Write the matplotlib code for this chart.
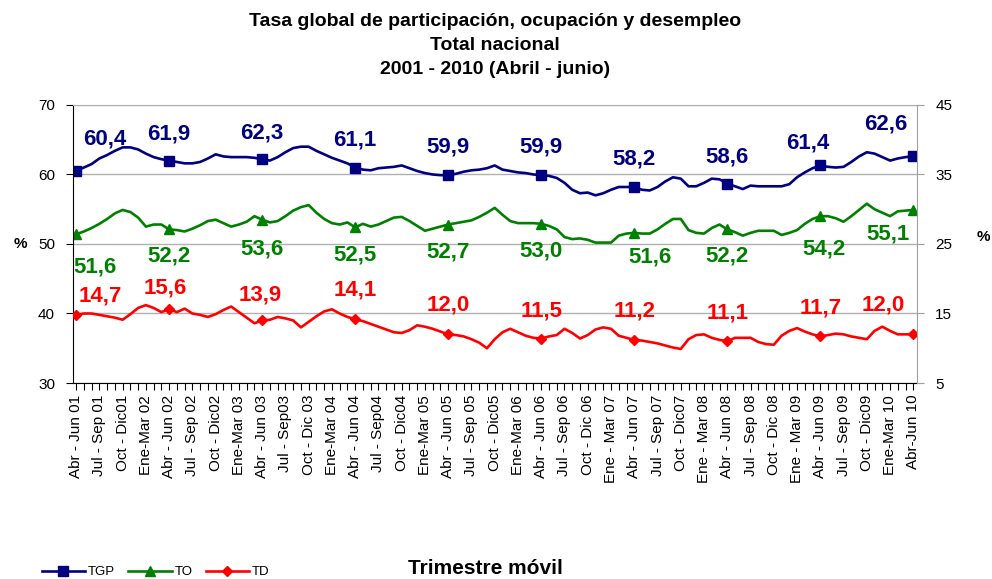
import numpy as np
import matplotlib
matplotlib.use('Agg')
import matplotlib.pyplot as plt

plt.rcParams['font.family'] = ['Liberation Sans', 'DejaVu Sans']

# meses móviles: Abr-Jun 01 ... Abr-Jun 10
tgp = [60.5, 61.0, 61.5, 62.3, 62.8, 63.4, 63.9, 63.9, 63.6, 63.0, 62.5, 62.2, 62.0,
       61.8, 61.6, 61.6, 61.8, 62.3, 62.9, 62.6, 62.5, 62.5, 62.5, 62.4, 62.2,
       62.0, 62.5, 63.2, 63.8, 64.0, 64.0, 63.4, 62.9, 62.4, 62.0, 61.6, 61.0,
       60.7, 60.6, 60.9, 61.0, 61.1, 61.3, 60.9, 60.5, 60.2, 60.0, 59.9, 59.9,
       60.1, 60.4, 60.6, 60.7, 60.9, 61.3, 60.7, 60.5, 60.3, 60.2, 60.0, 59.9,
       59.8, 59.5, 58.8, 57.8, 57.3, 57.4, 57.0, 57.3, 57.8, 58.2, 58.2, 58.2,
       57.8, 57.7, 58.2, 59.0, 59.6, 59.4, 58.3, 58.3, 58.8, 59.4, 59.3, 58.7,
       58.3, 57.9, 58.4, 58.3, 58.3, 58.3, 58.3, 58.6, 59.6, 60.3, 60.9, 61.3,
       61.1, 61.0, 61.1, 61.8, 62.6, 63.2, 63.0, 62.5, 62.0, 62.3, 62.5, 62.6]

to = [51.4, 51.8, 52.3, 52.9, 53.6, 54.4, 54.9, 54.6, 53.8, 52.5, 52.8, 52.8, 52.1,
      52.0, 51.8, 52.2, 52.7, 53.3, 53.5, 53.0, 52.5, 52.8, 53.2, 54.0, 53.5,
      53.1, 53.3, 54.0, 54.8, 55.3, 55.6, 54.5, 53.6, 53.0, 52.8, 53.1, 52.4,
      52.9, 52.5, 52.8, 53.3, 53.8, 53.9, 53.3, 52.6, 51.9, 52.2, 52.5, 52.8,
      53.0, 53.2, 53.4, 53.9, 54.5, 55.2, 54.2, 53.3, 53.0, 53.0, 53.0, 52.9,
      52.6, 52.1, 51.0, 50.7, 50.8, 50.6, 50.2, 50.2, 50.2, 51.2, 51.5, 51.6,
      51.5, 51.5, 52.1, 52.9, 53.6, 53.6, 52.0, 51.6, 51.5, 52.3, 52.8, 52.1,
      51.7, 51.2, 51.6, 51.9, 51.9, 51.9, 51.3, 51.6, 52.0, 52.9, 53.6, 54.0,
      54.0, 53.7, 53.2, 54.0, 54.9, 55.8, 55.0, 54.5, 54.0, 54.7, 54.8, 54.9]

td = [14.8, 15.0, 15.0, 14.8, 14.6, 14.4, 14.1, 14.9, 15.8, 16.2, 15.8, 15.2, 15.6,
      15.2, 15.7, 15.0, 14.8, 14.5, 14.9, 15.5, 16.0, 15.2, 14.4, 13.6, 14.0,
      14.1, 14.5, 14.3, 14.0, 13.0, 13.8, 14.6, 15.3, 15.6, 15.0, 14.5, 14.2,
      13.9, 13.5, 13.1, 12.7, 12.3, 12.2, 12.6, 13.3, 13.1, 12.8, 12.4, 12.0,
      11.9, 11.7, 11.3, 10.8, 10.0, 11.3, 12.3, 12.8, 12.3, 11.8, 11.5, 11.4,
      11.7, 11.9, 12.8, 12.2, 11.4, 11.9, 12.7, 13.0, 12.8, 11.8, 11.5, 11.2,
      11.1, 10.9, 10.7, 10.4, 10.1, 9.9, 11.3, 11.9, 12.0, 11.5, 11.2, 11.0,
      11.5, 11.5, 11.5, 10.9, 10.6, 10.5, 11.8, 12.5, 12.9, 12.4, 12.0, 11.7,
      11.9, 12.1, 12.0, 11.7, 11.5, 11.3, 12.5, 13.1, 12.5, 12.0, 12.0, 12.0]

# etiquetas de Abril-junio de cada año
tgp_lab = [60.4, 61.9, 62.3, 61.1, 59.9, 59.9, 58.2, 58.6, 61.4, 62.6]
to_lab = [51.6, 52.2, 53.6, 52.5, 52.7, 53.0, 51.6, 52.2, 54.2, 55.1]
td_lab = [14.7, 15.6, 13.9, 14.1, 12.0, 11.5, 11.2, 11.1, 11.7, 12.0]

xlabels = ['Abr - Jun 01', 'Jul - Sep 01', 'Oct - Dic01', 'Ene-Mar 02',
           'Abr - Jun 02', 'Jul - Sep 02', 'Oct - Dic02', 'Ene-Mar 03',
           'Abr - Jun 03', 'Jul - Sep03', 'Oct - Dic 03', 'Ene-Mar 04',
           'Abr - Jun 04', 'Jul - Sep04', 'Oct - Dic04', 'Ene-Mar 05',
           'Abr - Jun 05', 'Jul - Sep 05', 'Oct - Dic05', 'Ene-Mar 06',
           'Abr - Jun 06', 'Jul - Sep 06', 'Oct - Dic 06', 'Ene - Mar 07',
           'Abr - Jun 07', 'Jul - Sep 07', 'Oct - Dic07', 'Ene - Mar 08',
           'Abr - Jun 08', 'Jul - Sep 08', 'Oct - Dic 08', 'Ene - Mar 09',
           'Abr - Jun 09', 'Jul - Sep 09', 'Oct - Dic09', 'Ene-Mar 10',
           'Abr-Jun 10']

AZUL = '#000080'
VERDE = '#008000'
ROJO = '#ff0000'

x = np.arange(len(tgp))

fig = plt.figure(figsize=(9.92, 5.79), dpi=100)
ax = fig.add_axes([0.0736, 0.3385, 0.851, 0.4802])
ax2 = ax.twinx()

l1, = ax.plot(x, tgp, color=AZUL, lw=1.9, marker='s', ms=6.5, markevery=12)
l2, = ax.plot(x, to, color=VERDE, lw=1.9, marker='^', ms=7, markevery=12)
l3, = ax2.plot(x, td, color=ROJO, lw=1.9, marker='D', ms=5.5, markevery=12)

ax.set_ylim(30, 70)
ax2.set_ylim(5, 45)
ax.set_xlim(-0.4, 108.5)
ax.set_yticks(range(30, 71, 10))
ax2.set_yticks(range(5, 46, 10))
ax.yaxis.grid(True, color='#b0b0b0', lw=1)
ax.set_axisbelow(True)

ax.set_xticks(x[::3])
ax.set_xticklabels(xlabels, rotation=90, fontsize=11)
ax.set_xticks(x, minor=True)
ax.tick_params(axis='x', which='both', direction='out', length=5, width=0.8)
ax.tick_params(axis='y', direction='out', length=5, labelsize=11, pad=8)
ax2.tick_params(axis='y', direction='out', length=5, labelsize=11, pad=8, color='#a0a0a0')

ax.spines['top'].set_color('#b0b0b0')
ax2.spines['top'].set_visible(False)
ax2.spines['right'].set_color('#a0a0a0')
ax.spines['right'].set_visible(False)
ax2.spines['left'].set_visible(False)
ax2.spines['bottom'].set_visible(False)

# desplazamientos de etiquetas (pixeles)
dx1 = [29, 0, 0, 0, 0, 0, 0, 0, -13, -28]
dy1 = [32, 27, 26, 28, 28, 28, 28, 27, 22, 32]
dx2 = [19, 0, 0, 0, 0, 0, 16, 0, 4, -25]
dy2 = [-33, -27, -29, -28, -27, -27, -24, -27, -33, -24]
dx3 = [24, -4, -2, 0, 0, 0, 0, 0, 0, -30]
dy3 = [19, 21, 25, 29, 29, 28, 29, 28, 28, 29]

for k in range(10):
    i = k * 12
    ax.annotate(f'{tgp_lab[k]:.1f}'.replace('.', ','), (i, tgp[i]),
                xytext=(dx1[k], dy1[k]), textcoords='offset pixels',
                ha='center', va='center', color=AZUL, fontsize=16, fontweight='bold')
    ax.annotate(f'{to_lab[k]:.1f}'.replace('.', ','), (i, to[i]),
                xytext=(dx2[k], dy2[k]), textcoords='offset pixels',
                ha='center', va='center', color=VERDE, fontsize=16, fontweight='bold')
    ax2.annotate(f'{td_lab[k]:.1f}'.replace('.', ','), (i, td[i]),
                 xytext=(dx3[k], dy3[k]), textcoords='offset pixels',
                 ha='center', va='center', color=ROJO, fontsize=16, fontweight='bold')

titulo = ['Tasa global de participación, ocupación y desempleo',
          'Total nacional', '2001 - 2010 (Abril - junio)']
for j, t in enumerate(titulo):
    fig.text(495 / 992, 1 - (21 + 24 * j) / 579, t, ha='center', va='center',
             fontsize=14, fontweight='bold')

fig.text(20 / 992, 1 - 244 / 579, '%', ha='center', va='center', fontsize=11, fontweight='bold')
fig.text(983 / 992, 1 - 237 / 579, '%', ha='center', va='center', fontsize=11, fontweight='bold')
fig.text(485 / 992, 1 - 568 / 579, 'Trimestre móvil', ha='center', va='center',
         fontsize=15, fontweight='bold')

fig.legend([l1, l2, l3], ['TGP', 'TO', 'TD'], loc='center left',
           bbox_to_anchor=(0.03, 1 - 572 / 579), ncol=3, frameon=False,
           fontsize=9.5, handlelength=3.3, columnspacing=1.0, handletextpad=0.2)

fig.savefig('out.png', dpi=100)
